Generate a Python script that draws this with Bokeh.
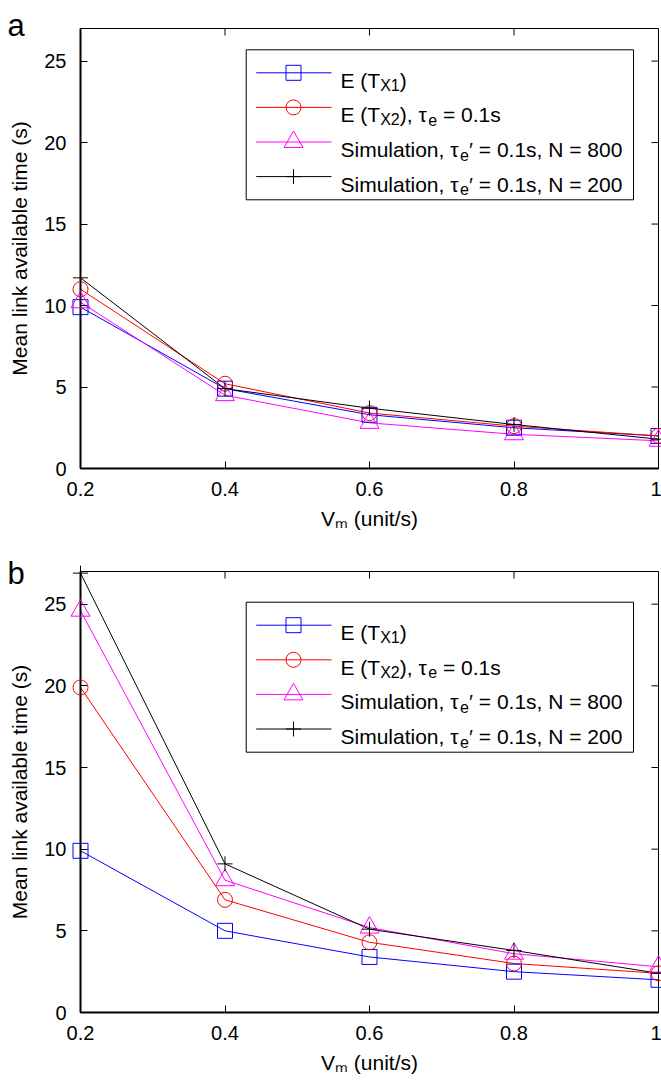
import math
from bokeh.plotting import figure
from bokeh.models import FixedTicker, Label, Range1d
from bokeh.layouts import column
from bokeh.embed import file_html
from bokeh.resources import INLINE

# ---------------- data ----------------
speeds = [0.2, 0.4, 0.6, 0.8, 1.0]
x_ticks = [0.2, 0.4, 0.6, 0.8, 1.0]
x_tick_labels = ["0.2", "0.4", "0.6", "0.8", "1"]
y_ticks = [0, 5, 10, 15, 20, 25]

a_tx1 = [9.9, 4.9, 3.3, 2.5, 2.0]
a_tx2 = [11.0, 5.2, 3.4, 2.6, 2.0]
a_sim800 = [10.2, 4.5, 2.8, 2.1, 1.7]
a_sim200 = [11.7, 4.9, 3.7, 2.7, 1.8]

b_tx1 = [9.9, 5.0, 3.4, 2.5, 2.0]
b_tx2 = [19.9, 6.9, 4.3, 3.0, 2.4]
b_sim800 = [24.6, 8.1, 5.2, 3.6, 2.8]
b_sim200 = [26.9, 9.1, 5.1, 3.8, 2.4]

series_colors = ["#0000ff", "#ff0000", "#ff00ff", "#000000"]
series_markers = ["square", "circle", "triangle", "cross"]
series_sizes = [15, 15, 19, 15]

legend_rows = [
    [("E (T", "n"), ("X1", "s"), (")", "n")],
    [("E (T", "n"), ("X2", "s"), ("), ", "n"), ("τ", "n"), ("e", "s"), (" = 0.1s", "n")],
    [("Simulation, ", "n"), ("τ", "n"), ("e", "s"), ("′", "n"), (" = 0.1s, N = 800", "n")],
    [("Simulation, ", "n"), ("τ", "n"), ("e", "s"), ("′", "n"), (" = 0.1s, N = 200", "n")],
]
xlabel_text = "Vₘ (unit/s)"
ylabel_text = "Mean link available time (s)"
panel_letters = ["a", "b"]

# ---------------- layout / style ----------------
FONT = "Liberation Sans"
FRAME_W = 578
X_LO, X_HI = 0.2, 1.0
Y_LO, Y_HI = 0, 27
TICK_LEN = 7

WIDTHS = {' ': 0.278, '(': 0.333, ')': 0.333, ',': 0.278, '.': 0.278, '/': 0.278,
          '=': 0.584, 'E': 0.667, 'T': 0.611, 'X': 0.667, 'N': 0.722, 'S': 0.667,
          'V': 0.667, 'a': 0.556, 'e': 0.556, 'i': 0.222, 'l': 0.222, 'm': 0.833,
          'n': 0.556, 'o': 0.556, 's': 0.5, 't': 0.278, 'u': 0.556, 'τ': 0.47,
          '′': 0.19}


def text_width(s, size):
    return sum(WIDTHS.get(c, 0.556) for c in s) * size


def make_conv(frame_h):
    def conv(xo, yo):
        return (X_LO + xo / FRAME_W * (X_HI - X_LO),
                Y_HI - yo / frame_h * (Y_HI - Y_LO))
    return conv


def rich_text(p, conv, x_off, y_off, pieces, size, sub_size, sub_drop):
    x = x_off
    for txt, kind in pieces:
        fs = sub_size if kind == "s" else size
        dy = sub_drop if kind == "s" else 0
        stripped = txt.lstrip(" ")
        x += text_width(txt[:len(txt) - len(stripped)], fs)
        X, Y = conv(x, y_off + dy)
        p.add_layout(Label(x=X, y=Y, text=stripped, text_font=FONT,
                           text_font_size=f"{fs}px", text_baseline="alphabetic",
                           text_align="left", text_color="black"))
        x += text_width(stripped, fs)


def make_panel(letter, data, frame_h, top_border, bottom_border, legend_top):
    conv = make_conv(frame_h)
    p = figure(frame_width=FRAME_W, frame_height=frame_h,
               x_range=Range1d(X_LO, X_HI), y_range=Range1d(Y_LO, Y_HI),
               output_backend="svg", toolbar_location=None,
               min_border_left=80, min_border_right=3,
               min_border_top=top_border, min_border_bottom=bottom_border,
               background_fill_color="white", border_fill_color="white")
    p.xgrid.visible = False
    p.ygrid.visible = False
    p.outline_line_color = "black"
    p.outline_line_width = 1

    for ax in p.xaxis:
        ax.ticker = FixedTicker(ticks=x_ticks)
        ax.major_label_overrides = {t: l for t, l in zip(x_ticks, x_tick_labels)}
        ax.major_label_standoff = 13
        ax.axis_label = xlabel_text
        ax.axis_label_text_font = FONT
        ax.axis_label_text_font_size = "21px"
        ax.axis_label_text_font_style = "normal"
        ax.axis_label_text_color = "black"
        ax.axis_label_standoff = 8
    for ax in p.yaxis:
        ax.ticker = FixedTicker(ticks=y_ticks)
        ax.major_label_standoff = 14
    for ax in list(p.xaxis) + list(p.yaxis):
        ax.major_label_text_font = FONT
        ax.major_label_text_font_size = "20px"
        ax.major_label_text_color = "black"
        ax.axis_line_width = 2
        ax.axis_line_color = "black"
        ax.major_tick_in = TICK_LEN
        ax.major_tick_out = 0
        ax.major_tick_line_color = "black"
        ax.minor_tick_line_color = None

    # mirrored inward ticks on top and right edges
    dy = TICK_LEN / frame_h * (Y_HI - Y_LO)
    dx = TICK_LEN / FRAME_W * (X_HI - X_LO)
    p.segment(x0=x_ticks, y0=[Y_HI] * len(x_ticks), x1=x_ticks,
              y1=[Y_HI - dy] * len(x_ticks), line_color="black", line_width=1)
    p.segment(x0=[X_HI] * len(y_ticks), y0=y_ticks, x1=[X_HI - dx] * len(y_ticks),
              y1=y_ticks, line_color="black", line_width=1)

    for vals, col, mk, sz in zip(data, series_colors, series_markers, series_sizes):
        p.line(speeds, vals, line_color=col, line_width=1)
        p.scatter(speeds, vals, marker=mk, size=sz, fill_color=None,
                  line_color=col, line_width=1, level="overlay")

    # legend
    bl, bt = conv(165.7, legend_top)
    br, bb = conv(553.0, legend_top + 150)
    p.quad(left=[bl], right=[br], top=[bt], bottom=[bb], fill_color="white",
           line_color="black", line_width=1)
    for i, (pieces, col, mk, sz) in enumerate(zip(legend_rows, series_colors,
                                                 series_markers, series_sizes)):
        ry = legend_top + 23 + i * 34.6
        x1, y1 = conv(175.7, ry)
        x2, _ = conv(251.0, ry)
        xm, _ = conv(213.0, ry)
        p.line([x1, x2], [y1, y1], line_color=col, line_width=1)
        p.scatter([xm], [y1], marker=mk, size=sz, fill_color=None,
                  line_color=col, line_width=1)
        rich_text(p, conv, 260.0, ry + 7.5, pieces, 21, 16, 5)

    # y label (rotated) and panel letter, both in the left side panel
    yx, yy = conv(-61.0, frame_h / 2)
    p.add_layout(Label(x=yx, y=yy, text=ylabel_text, angle=math.pi / 2, text_font=FONT,
                       text_font_size="21px", text_baseline="alphabetic",
                       text_align="center", text_color="black"), "left")
    lx, ly = conv(-73, 2 if letter == "b" else -3)
    p.add_layout(Label(x=lx, y=ly, text=letter, text_font=FONT, text_font_size="31px",
                       text_baseline="alphabetic", text_align="left",
                       text_color="black"), "left")
    return p


pa = make_panel(panel_letters[0], [a_tx1, a_tx2, a_sim800, a_sim200], 440, 28, 77, 21.3)
pb = make_panel(panel_letters[1], [b_tx1, b_tx2, b_sim800, b_sim200], 441, 26, 60, 30.7)

layout = column(pa, pb, spacing=0)
open("out.html", "w").write(file_html(layout, INLINE))
